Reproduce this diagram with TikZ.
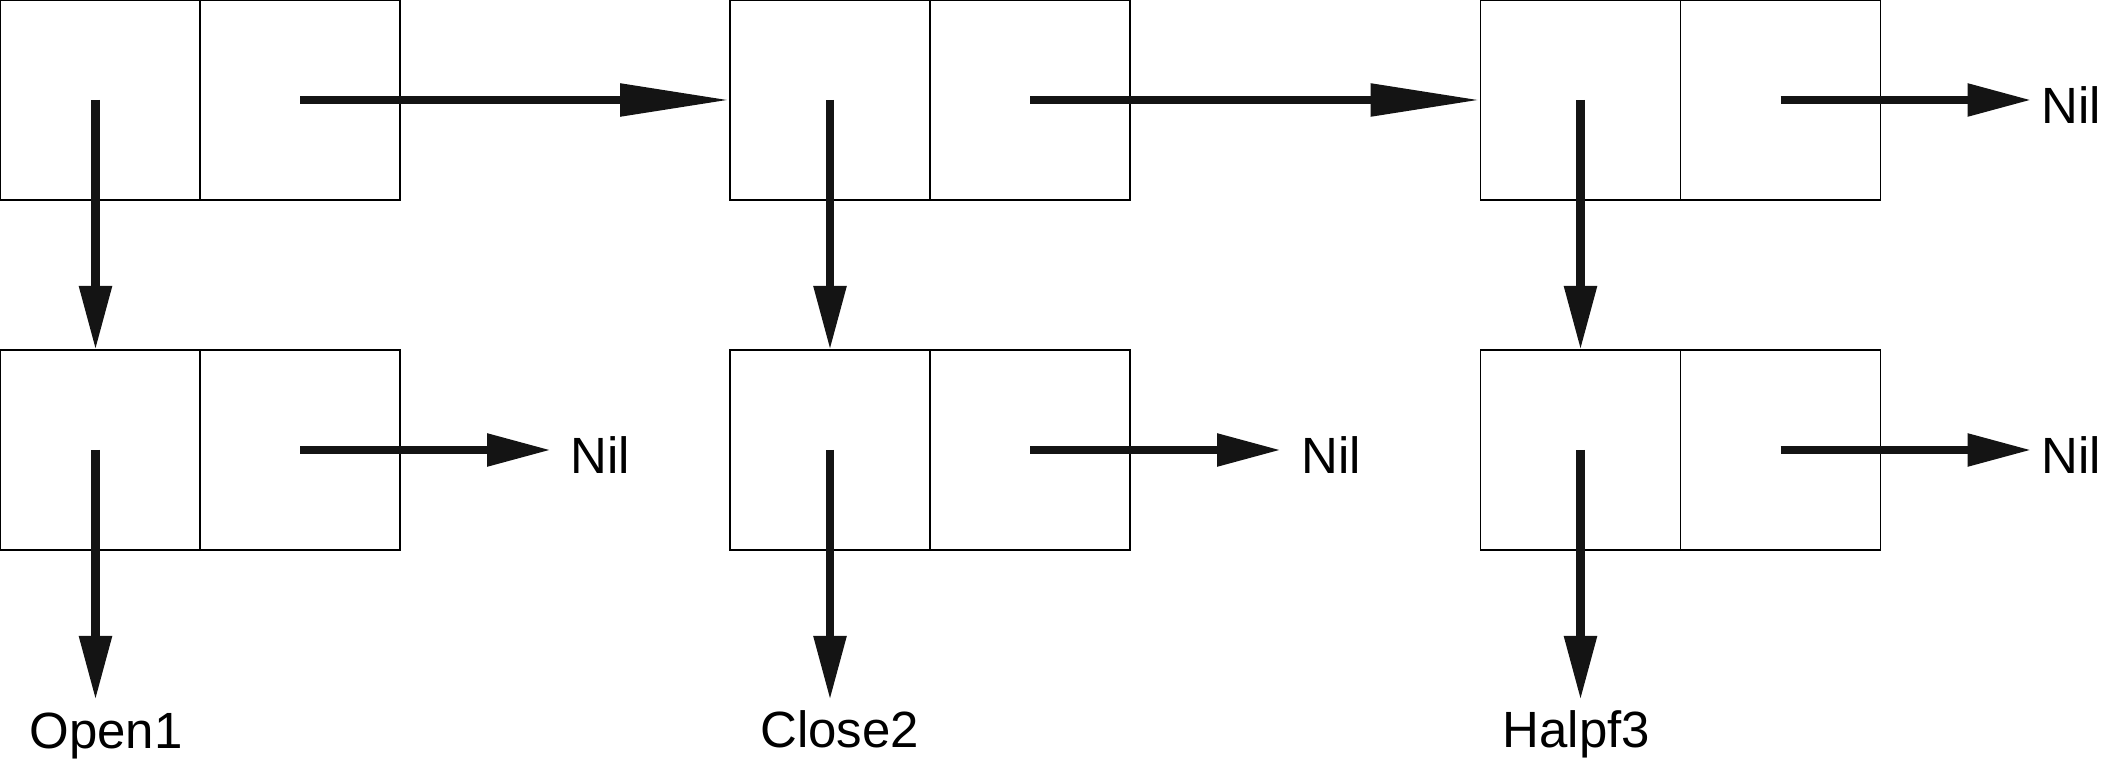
\documentclass[tikz,border=0pt]{standalone}
\usepackage{fontspec}
\setmainfont{Liberation Sans}
\usetikzlibrary{arrows.meta,positioning}

\begin{document}
\begin{tikzpicture}[
    cell/.style={rectangle, draw, line width=0.45pt, minimum width=2cm, minimum height=2cm, inner sep=0pt, outer sep=0pt},
    atom/.style={inner sep=0pt, font=\fontsize{14.5pt}{17pt}\selectfont},
    nil/.style={atom, yshift=-0.05cm},
    ptr/.style={line width=0.087cm, draw=black!92, -{Triangle[length=0.64cm, width=0.31cm]}},
    link/.style={line width=0.087cm, draw=black!92, -{Triangle[length=1.1cm, width=0.31cm]}}
]
\useasboundingbox (0,0) rectangle (21.21,-7.63);

% Spine cells (top row)
\node[cell] (cons1_car) at (1,-1) {};
\node[cell, right=0cm of cons1_car] (cons1_cdr) {};
\node[cell, right=3.3cm of cons1_cdr] (cons2_car) {};
\node[cell, right=0cm of cons2_car] (cons2_cdr) {};
\node[cell, right=3.505cm of cons2_cdr] (cons3_car) {};
\node[cell, right=0cm of cons3_car] (cons3_cdr) {};

% Item cells (bottom row)
\node[cell, below=1.5cm of cons1_car] (item1_car) {};
\node[cell, right=0cm of item1_car] (item1_cdr) {};
\node[cell, below=1.5cm of cons2_car] (item2_car) {};
\node[cell, right=0cm of item2_car] (item2_cdr) {};
\node[cell, below=1.5cm of cons3_car] (item3_car) {};
\node[cell, right=0cm of item3_car] (item3_cdr) {};

% Free ends and texts
\coordinate[right=2.51cm of cons3_cdr.center] (nil0_end);
\coordinate[right=2.51cm of item1_cdr.center] (nil1_end);
\coordinate[right=2.51cm of item2_cdr.center] (nil2_end);
\coordinate[right=2.51cm of item3_cdr.center] (nil3_end);
\node[nil, right=0.09cm of nil0_end] (nil0) {Nil};
\node[nil, right=0.19cm of nil1_end] (nil1) {Nil};
\node[nil, right=0.2cm of nil2_end] (nil2) {Nil};
\node[nil, right=0.09cm of nil3_end] (nil3) {Nil};

\coordinate[below=2.5cm of item1_car.center, xshift=-0.045cm] (open_end);
\coordinate[below=2.5cm of item2_car.center] (close_end);
\coordinate[below=2.5cm of item3_car.center] (halpf_end);
\node[atom, below=0.12cm of open_end, xshift=0.105cm] (open_lbl) {Open1};
\node[atom, below=0.1cm of close_end, xshift=0.097cm] (close_lbl) {Close2};
\node[atom, below=0.1cm of halpf_end, xshift=-0.04cm] (halpf_lbl) {Halpf3};

% Arrows
\draw[link] (cons1_cdr.center) -- (cons2_car.west);
\draw[link] (cons2_cdr.center) -- (cons3_car.west);
\draw[ptr] (cons3_cdr.center) -- (nil0_end);
\draw[ptr] ([xshift=-0.045cm]cons1_car.center) -- ([xshift=-0.045cm]item1_car.north);
\draw[ptr] (cons2_car.center) -- (item2_car.north);
\draw[ptr] (cons3_car.center) -- (item3_car.north);
\draw[ptr] (item1_cdr.center) -- (nil1_end);
\draw[ptr] (item2_cdr.center) -- (nil2_end);
\draw[ptr] (item3_cdr.center) -- (nil3_end);
\draw[ptr] ([xshift=-0.045cm]item1_car.center) -- (open_end);
\draw[ptr] (item2_car.center) -- (close_end);
\draw[ptr] (item3_car.center) -- (halpf_end);

\end{tikzpicture}
\end{document}
